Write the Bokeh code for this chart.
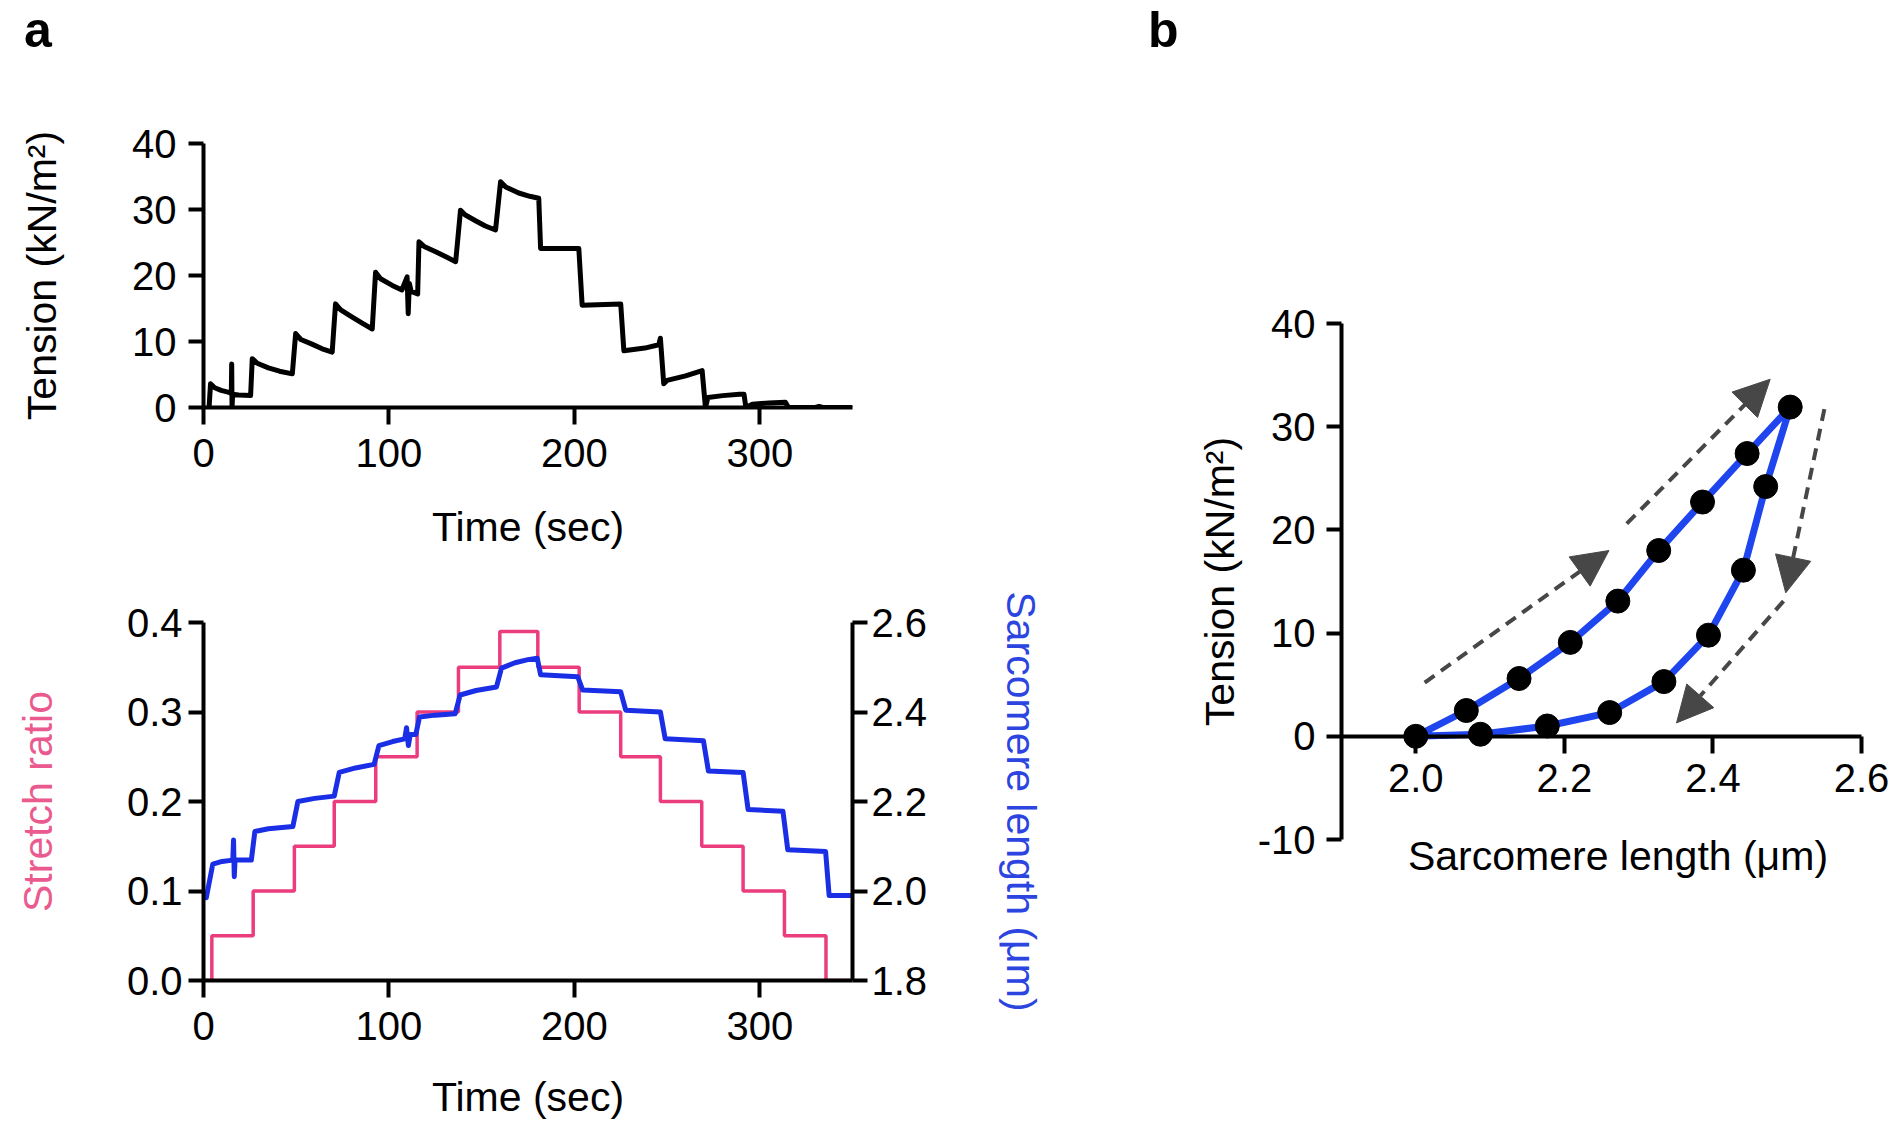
from bokeh.plotting import figure
from bokeh.models import (Range1d, LinearAxis, FixedTicker, Arrow, Div,
                          NormalHead, ColumnDataSource)
from bokeh.layouts import row, column
from bokeh.embed import file_html
from bokeh.resources import INLINE

# ---------------- data ----------------
tension_time = [3.0, 3.8, 6.0, 9.5, 13.7, 15.0, 15.2, 15.4, 15.7, 19.0, 25.4,
                26.3, 29.0, 35.0, 41.0, 47.9,
                49.7, 52.5, 58.5, 64.0, 69.4,
                71.2, 74.0, 80.2, 86.0, 91.0,
                92.8, 95.5, 101.8, 107.0, 109.8, 110.4, 111.0, 112.0, 115.5,
                116.2, 119.0, 125.2, 131.0, 136.0,
                138.6, 141.0, 146.7, 152.0, 157.5,
                160.2, 163.0, 170.0, 176.0, 180.8,
                181.8, 202.4,
                204.2, 225.0,
                226.7, 238.0, 245.5, 246.4,
                248.2, 250.0, 260.0, 268.9,
                270.7, 272.0, 280.0, 289.0, 291.5,
                292.5, 296.0, 305.0, 313.8, 315.5,
                330.0, 332.0, 334.0, 350.0]
tension_kn = [0.0, 3.6, 3.0, 2.6, 2.3, 2.1, 6.6, 0.0, 2.0, 1.9, 1.8,
              7.4, 6.7, 6.0, 5.5, 5.1,
              11.2, 10.3, 9.6, 8.9, 8.4,
              15.7, 14.8, 13.7, 12.7, 11.9,
              20.5, 19.5, 18.5, 17.8, 19.8, 14.2, 18.8, 17.6, 17.2,
              25.1, 24.4, 23.6, 22.8, 22.1,
              29.9, 29.2, 28.3, 27.5, 26.9,
              34.2, 33.4, 32.5, 32.0, 31.7,
              24.1, 24.1,
              15.5, 15.7,
              8.6, 9.0, 9.5, 10.5,
              3.6, 4.1, 4.8, 5.6,
              0.0, 1.5, 1.8, 2.0, 2.0,
              0.0, 0.5, 0.7, 0.8, 0.0,
              0.0, 0.15, 0.0, 0.0]

stretch_time = [0, 4.5, 26.8, 49.0, 70.5, 92.9, 115.2, 137.5, 159.8, 180.3,
                202.6, 225.0, 246.4, 268.7, 291.0, 313.3, 335.7, 350.0]
stretch_ratio = [0.0, 0.05, 0.10, 0.15, 0.20, 0.25, 0.30, 0.35, 0.39, 0.35,
                 0.30, 0.25, 0.20, 0.15, 0.10, 0.05, 0.0, 0.0]

sarc_time = [0, 1.5, 5.0, 10.0, 15.8, 16.2, 16.6, 17.0, 25.8,
             27.7, 35.0, 48.2,
             50.9, 60.0, 70.5,
             73.2, 82.0, 92.0,
             94.6, 102.0, 108.5, 109.5, 110.5, 111.5, 114.5,
             116.5, 125.0, 135.7,
             138.4, 147.0, 158.0,
             160.7, 168.0, 175.0, 180.0,
             181.8, 201.8,
             204.5, 225.0,
             227.7, 246.4,
             249.0, 269.6,
             272.3, 291.0,
             293.7, 312.5,
             315.1, 335.5,
             337.4, 350.0]
sarc_length = [1.99, 1.985, 2.06, 2.066, 2.069, 2.114, 2.032, 2.069, 2.069,
               2.133, 2.139, 2.144,
               2.200, 2.207, 2.212,
               2.265, 2.275, 2.283,
               2.325, 2.334, 2.340, 2.365, 2.325, 2.350, 2.350,
               2.389, 2.393, 2.396,
               2.438, 2.448, 2.456,
               2.498, 2.510, 2.517, 2.520,
               2.483, 2.479,
               2.449, 2.445,
               2.404, 2.400,
               2.340, 2.336,
               2.268, 2.265,
               2.182, 2.178,
               2.092, 2.088,
               1.990, 1.990]

load_sl = [2.0, 2.068, 2.139, 2.208, 2.272, 2.327, 2.386, 2.446, 2.504]
load_tension = [0.0, 2.5, 5.6, 9.1, 13.1, 18.0, 22.7, 27.4, 31.9]
unload_sl = [2.504, 2.471, 2.441, 2.394, 2.334, 2.261, 2.177, 2.087, 2.0]
unload_tension = [31.9, 24.2, 16.1, 9.8, 5.3, 2.3, 1.0, 0.2, 0.0]

arrow_x0 = [2.012, 2.284, 2.550, 2.495]
arrow_y0 = [5.2, 20.6, 31.7, 13.1]
arrow_x1 = [2.260, 2.477, 2.498, 2.351]
arrow_y1 = [18.0, 34.6, 13.9, 1.3]

time_ticks = [0, 100, 200, 300]
time_labels = ["0", "100", "200", "300"]
tension_ticks = [0, 10, 20, 30, 40]
tension_labels = ["0", "10", "20", "30", "40"]
stretch_ticks = [0.0, 0.1, 0.2, 0.3, 0.4]
stretch_labels = ["0.0", "0.1", "0.2", "0.3", "0.4"]
sl_ticks = [1.8, 2.0, 2.2, 2.4, 2.6]
sl_labels = ["1.8", "2.0", "2.2", "2.4", "2.6"]
loop_x_ticks = [2.0, 2.2, 2.4, 2.6]
loop_x_labels = ["2.0", "2.2", "2.4", "2.6"]
loop_y_ticks = [-10, 0, 10, 20, 30, 40]
loop_y_labels = ["-10", "0", "10", "20", "30", "40"]

# ---------------- style ----------------
FONT = "Liberation Sans"
PINK = "#EB3C7D"
PINK_TXT = "#EA5A8E"
BLUE = "#1A2EE6"
BLUE_TXT = "#2C44E0"
BLUE_B = "#1F45EE"
GREY = "#474747"


def style_axis(ax, ticks, labels, tick_out=15, standoff=10):
    ax.ticker = FixedTicker(ticks=ticks)
    ax.major_label_overrides = {t: l for t, l in zip(ticks, labels)}
    ax.minor_tick_line_color = None
    ax.major_tick_in = 0
    ax.major_tick_out = tick_out
    ax.major_tick_line_width = 4
    ax.major_tick_line_color = "black"
    ax.axis_line_width = 4
    ax.axis_line_color = "black"
    ax.major_label_text_font = FONT
    ax.major_label_text_font_size = "40px"
    ax.major_label_text_color = "black"
    ax.major_label_standoff = standoff
    ax.axis_label_text_font = FONT
    ax.axis_label_text_font_size = "41px"
    ax.axis_label_text_font_style = "normal"
    ax.axis_label_text_color = "black"


def base(p):
    p.xgrid.visible = False
    p.ygrid.visible = False
    p.outline_line_color = None
    p.background_fill_color = "white"
    p.border_fill_color = "white"


def panel_letter(letter, left, width):
    return Div(text=('<div style="position:relative; left:%dpx; top:5px; margin:0; '
                     'padding:0; font-family:\'Liberation Sans\'; font-weight:bold; '
                     'font-size:50px; line-height:50px; color:black;">%s</div>')
               % (left, letter), width=width, height=60, margin=0)


# ---------------- panel a, top ----------------
p1 = figure(width=1108, height=497, min_border_left=201, min_border_right=256,
            min_border_top=83, min_border_bottom=150,
            x_range=Range1d(0, 350), y_range=Range1d(0, 40),
            output_backend="svg", toolbar_location=None)
base(p1)
style_axis(p1.xaxis[0], time_ticks, time_labels, tick_out=17, standoff=14)
style_axis(p1.yaxis[0], tension_ticks, tension_labels, standoff=12)
p1.xaxis[0].axis_label = "Time (sec)"
p1.xaxis[0].axis_label_standoff = 34
p1.yaxis[0].axis_label = "Tension (kN/m\u00b2)"
p1.yaxis[0].axis_label_standoff = 64
p1.line(tension_time, tension_kn, line_width=5, color="black", line_join="round")

# ---------------- panel a, bottom ----------------
p2 = figure(width=1108, height=566, min_border_left=203, min_border_right=251,
            min_border_top=65, min_border_bottom=143,
            x_range=Range1d(0, 350), y_range=Range1d(0, 0.4),
            output_backend="svg", toolbar_location=None)
base(p2)
p2.extra_y_ranges = {"sl": Range1d(1.8, 2.6)}
style_axis(p2.xaxis[0], time_ticks, time_labels, tick_out=17, standoff=14)
style_axis(p2.yaxis[0], stretch_ticks, stretch_labels, standoff=6)
p2.xaxis[0].axis_label = "Time (sec)"
p2.xaxis[0].axis_label_standoff = 31
p2.yaxis[0].axis_label = "Stretch ratio"
p2.yaxis[0].axis_label_text_color = PINK_TXT
p2.yaxis[0].axis_label_standoff = 63
right_ax = LinearAxis(y_range_name="sl")
style_axis(right_ax, sl_ticks, sl_labels, standoff=4)
right_ax.axis_label = "Sarcomere length (\u03bcm)"
right_ax.axis_label_text_color = BLUE_TXT
right_ax.axis_label_standoff = 68
p2.add_layout(right_ax, "right")
p2.step(stretch_time, stretch_ratio, mode="after", line_width=3.5, color=PINK)
p2.line(sarc_time, sarc_length, y_range_name="sl", line_width=5, color=BLUE,
        line_join="round")

# ---------------- panel b ----------------
p3 = figure(width=786, height=929, min_border_left=233, min_border_right=0,
            min_border_top=263, min_border_bottom=150,
            x_range=Range1d(1.9, 2.6444), y_range=Range1d(-10, 40),
            x_axis_location=None,
            output_backend="svg", toolbar_location=None)
base(p3)
style_axis(p3.yaxis[0], loop_y_ticks, loop_y_labels, tick_out=15, standoff=11)
p3.yaxis[0].axis_label = "Tension (kN/m\u00b2)"
p3.yaxis[0].axis_label_standoff = 12

bx = LinearAxis(fixed_location=0, bounds=(1.9, 2.6))
style_axis(bx, loop_x_ticks, loop_x_labels, tick_out=17, standoff=11)
p3.add_layout(bx, "below")

bx_title = LinearAxis(bounds=(1.9, 2.6), ticker=FixedTicker(ticks=[]))
bx_title.axis_line_color = None
bx_title.major_tick_line_color = None
bx_title.minor_tick_line_color = None
bx_title.major_tick_out = 0
bx_title.major_tick_in = 0
bx_title.major_label_standoff = 0
bx_title.major_label_text_font_size = "0px"
bx_title.axis_label = "Sarcomere length (\u03bcm)"
bx_title.axis_label_text_font = FONT
bx_title.axis_label_text_font_size = "41px"
bx_title.axis_label_text_font_style = "normal"
bx_title.axis_label_text_color = "black"
bx_title.axis_label_standoff = -7
p3.add_layout(bx_title, "below")

arrows = ColumnDataSource(dict(x0=arrow_x0, y0=arrow_y0, x1=arrow_x1, y1=arrow_y1))
p3.add_layout(Arrow(source=arrows, x_start="x0", y_start="y0", x_end="x1", y_end="y1",
                    line_color=GREY, line_width=4, line_dash="12 8",
                    end=NormalHead(size=36, fill_color=GREY, line_color=GREY,
                                   line_width=1)))
loop_x = load_sl + unload_sl[1:]
loop_y = load_tension + unload_tension[1:]
p3.line(loop_x, loop_y, line_width=7, color=BLUE_B, line_join="round")
p3.scatter(load_sl + unload_sl[1:-1], load_tension + unload_tension[1:-1],
           size=24, color="black", marker="circle")

left_col = column(panel_letter("a", 24, 1108), p1, p2, spacing=0)
right_col = column(panel_letter("b", 40, 786), p3, spacing=0)
layout = row(left_col, right_col, spacing=0)
open("out.html", "w").write(file_html(layout, INLINE))
